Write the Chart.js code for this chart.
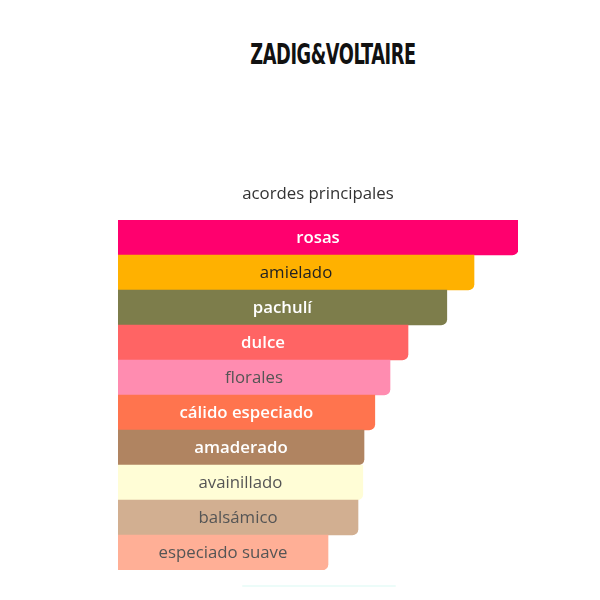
<!DOCTYPE html>
<html>
<head>
<meta charset="utf-8">
<script src="https://cdn.jsdelivr.net/npm/chart.js@4"></script>
<style>
  html, body { margin: 0; padding: 0; background: #fff; }
  #wrap { position: relative; width: 600px; height: 600px; }
  #logo {
    position: absolute; left: 183px; top: 38px; width: 300px; text-align: center;
    font-family: "DejaVu Sans Condensed", "Liberation Sans Narrow", sans-serif;
    font-weight: bold; font-size: 28px; letter-spacing: -0.6px; color: #111;
    transform: scaleX(0.705);
  }
  #foot {
    position: absolute; left: 242px; top: 585px; width: 154px; height: 2px;
    background: #ecfcf9; border-radius: 1px;
  }
  canvas { position: absolute; left: 0; top: 0; }
</style>
</head>
<body>
<div id="wrap">
  <div id="logo">ZADIG&amp;VOLTAIRE</div>
  <canvas id="chart" width="600" height="600"></canvas>
  <div id="foot"></div>
</div>
<script>
// acordes (categorías) y su intensidad relativa
const accords = ["rosas", "amielado", "pachulí", "dulce", "florales",
  "cálido especiado", "amaderado", "avainillado", "balsámico", "especiado suave"];
const strength = [100, 89, 82.2, 72.5, 68, 64.2, 61.5, 61.2, 60, 52.5];

// colores de cada barra y de su texto
const barColors = ["#ff006e", "#ffb100", "#7d7d4b", "#ff6464", "#ff8cb0",
  "#ff744e", "#b08461", "#fffdd6", "#d2af91", "#ffaf96"];
const textColors = ["#fff", "#222", "#fff", "#fff", "#555",
  "#fff", "#fff", "#555", "#555", "#555"];
const boldText = [true, false, true, true, false, true, true, false, false, false];

// texto centrado dentro de cada barra
const barLabels = {
  id: "barLabels",
  afterDatasetsDraw(chart) {
    const ctx = chart.ctx;
    const meta = chart.getDatasetMeta(0);
    ctx.save();
    ctx.textAlign = "center";
    ctx.textBaseline = "middle";
    meta.data.forEach((bar, i) => {
      const p = bar.getProps(["x", "y", "base"], true);
      ctx.font = (boldText[i] ? "600 " : "") + "16.8px 'Open Sans', sans-serif";
      ctx.fillStyle = textColors[i];
      ctx.fillText(accords[i], (p.x + p.base) / 2, p.y + 1);
    });
    ctx.restore();
  }
};

new Chart(document.getElementById("chart"), {
  type: "bar",
  data: {
    labels: accords,
    datasets: [{
      data: strength,
      backgroundColor: barColors,
      borderWidth: 0,
      borderRadius: { topLeft: 0, topRight: 0, bottomLeft: 0, bottomRight: 6 },
      borderSkipped: false,
      categoryPercentage: 1,
      barPercentage: 1
    }]
  },
  options: {
    indexAxis: "y",
    responsive: false,
    animation: false,
    layout: { padding: { left: 118, right: 82, top: 0, bottom: 30 } },
    scales: {
      x: { display: false, min: 0, max: 100 },
      y: { display: false }
    },
    plugins: {
      legend: { display: false },
      tooltip: { enabled: false },
      title: {
        display: true,
        text: "acordes principales",
        color: "#333",
        font: { family: "'Open Sans', sans-serif", size: 16.8, weight: "normal" },
        padding: { top: 184.5, bottom: 15.3 }
      }
    }
  },
  plugins: [barLabels]
});
</script>
</body>
</html>
